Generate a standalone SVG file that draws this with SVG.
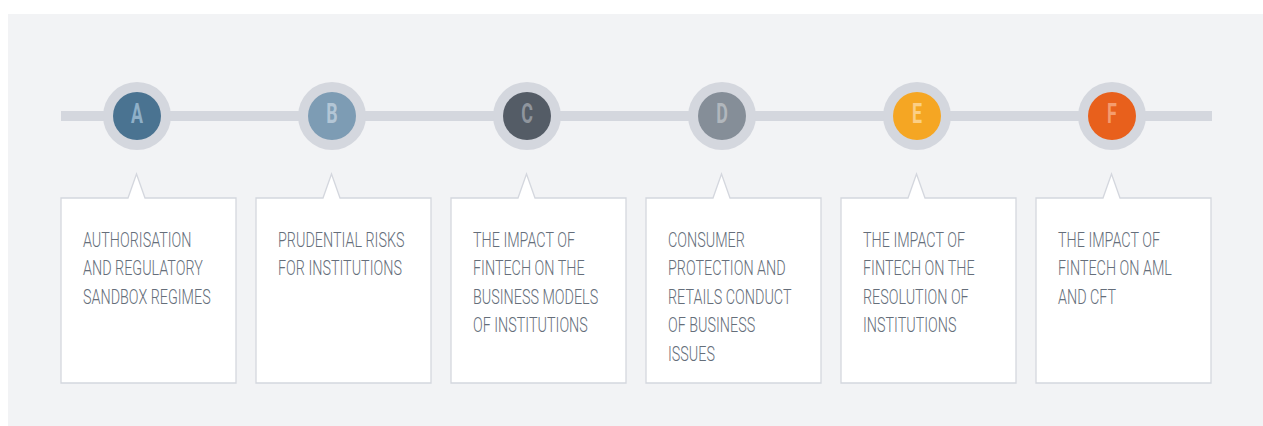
<svg xmlns="http://www.w3.org/2000/svg" width="1263" height="426" viewBox="0 0 1263 426">
<style>
.bg{fill:#f2f3f5}
.ring{fill:#d4d7de}
.box{fill:#ffffff;stroke:#d4d7de;stroke-width:1.3}
.lbl{font-family:Roboto,"Liberation Sans",Arial,sans-serif;font-size:20.5px;font-weight:300;fill:#656e7a}
.let{font-family:Roboto,"Liberation Sans",Arial,sans-serif;font-size:27px;font-weight:bold;text-anchor:middle}
</style>
<defs>
<path id="callout" d="M0,198 H67 L75.5,174 L84,198 H175 V383 H0 Z"/>
</defs>
<rect class="bg" x="8" y="14" width="1255" height="412"/>
<g id="connectors">
<rect x="61" y="111" width="1151" height="10" fill="#d4d7de"/>
</g>
<g id="node-A">
<circle class="ring" cx="137" cy="116" r="34"/>
<circle cx="137" cy="116" r="24" fill="#4a7391"/>
<text class="let" transform="translate(137 123) scale(0.66 1)" fill="#8fb0c8">A</text>
<use href="#callout" class="box" x="61"/>
<g transform="translate(83 0) scale(0.7 1)" class="lbl">
<text y="246.7">AUTHORISATION</text>
<text y="275.3">AND REGULATORY</text>
<text y="303.9">SANDBOX REGIMES</text>
</g>
</g>
<g id="node-B">
<circle class="ring" cx="332" cy="116" r="34"/>
<circle cx="332" cy="116" r="24" fill="#7d9cb4"/>
<text class="let" transform="translate(332 123) scale(0.66 1)" fill="#b3c6d6">B</text>
<use href="#callout" class="box" x="256"/>
<g transform="translate(278 0) scale(0.7 1)" class="lbl">
<text y="246.7">PRUDENTIAL RISKS</text>
<text y="275.3">FOR INSTITUTIONS</text>
</g>
</g>
<g id="node-C">
<circle class="ring" cx="527" cy="116" r="34"/>
<circle cx="527" cy="116" r="24" fill="#545c66"/>
<text class="let" transform="translate(527 123) scale(0.66 1)" fill="#8f959d">C</text>
<use href="#callout" class="box" x="451"/>
<g transform="translate(473 0) scale(0.7 1)" class="lbl">
<text y="246.7">THE IMPACT OF</text>
<text y="275.3">FINTECH ON THE</text>
<text y="303.9">BUSINESS MODELS</text>
<text y="332.5">OF INSTITUTIONS</text>
</g>
</g>
<g id="node-D">
<circle class="ring" cx="722" cy="116" r="34"/>
<circle cx="722" cy="116" r="24" fill="#858e98"/>
<text class="let" transform="translate(722 123) scale(0.66 1)" fill="#b1b7bd">D</text>
<use href="#callout" class="box" x="646"/>
<g transform="translate(668 0) scale(0.7 1)" class="lbl">
<text y="246.7">CONSUMER</text>
<text y="275.3">PROTECTION AND</text>
<text y="303.9">RETAILS CONDUCT</text>
<text y="332.5">OF BUSINESS</text>
<text y="361.1">ISSUES</text>
</g>
</g>
<g id="node-E">
<circle class="ring" cx="917" cy="116" r="34"/>
<circle cx="917" cy="116" r="24" fill="#f5a623"/>
<text class="let" transform="translate(917 123) scale(0.66 1)" fill="#fbcf86">E</text>
<use href="#callout" class="box" x="841"/>
<g transform="translate(863 0) scale(0.7 1)" class="lbl">
<text y="246.7">THE IMPACT OF</text>
<text y="275.3">FINTECH ON THE</text>
<text y="303.9">RESOLUTION OF</text>
<text y="332.5">INSTITUTIONS</text>
</g>
</g>
<g id="node-F">
<circle class="ring" cx="1112" cy="116" r="34"/>
<circle cx="1112" cy="116" r="24" fill="#e8601c"/>
<text class="let" transform="translate(1112 123) scale(0.66 1)" fill="#f49c6e">F</text>
<use href="#callout" class="box" x="1036"/>
<g transform="translate(1058 0) scale(0.7 1)" class="lbl">
<text y="246.7">THE IMPACT OF</text>
<text y="275.3">FINTECH ON AML</text>
<text y="303.9">AND CFT</text>
</g>
</g>
</svg>
